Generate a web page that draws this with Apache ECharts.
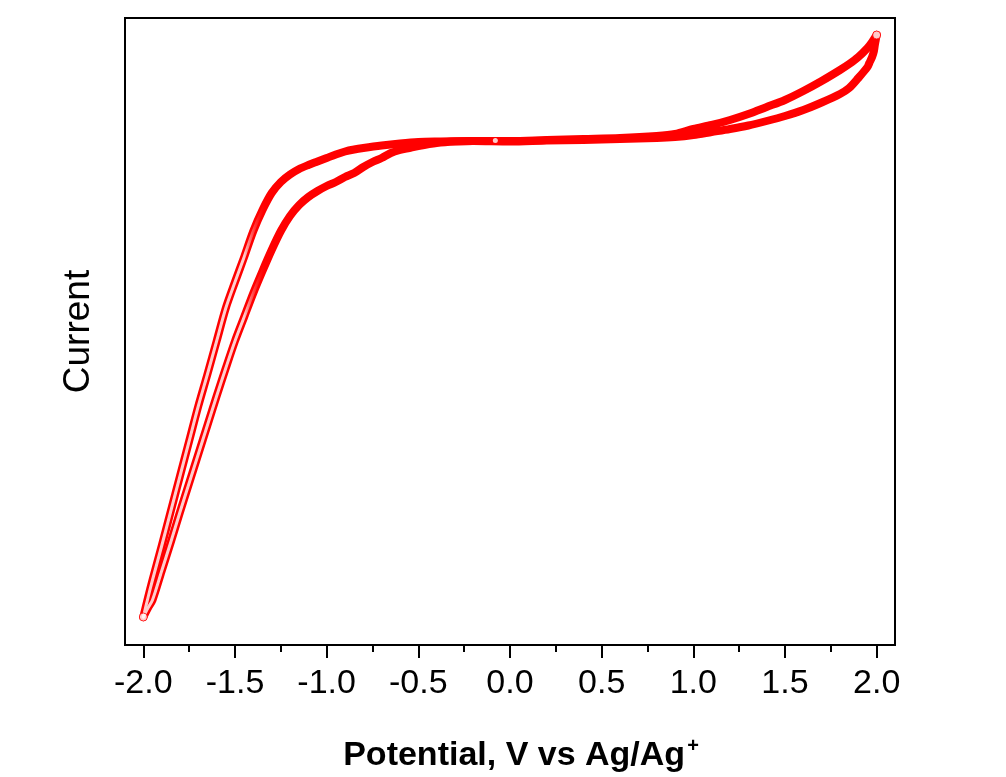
<!DOCTYPE html>
<html>
<head>
<meta charset="utf-8">
<script src="https://cdn.jsdelivr.net/npm/echarts@6/dist/echarts.min.js"></script>
<style>
html,body{margin:0;padding:0;background:#fff;}
#chart{width:1006px;height:777px;}
</style>
</head>
<body>
<div id="chart"></div>
<script>
// Potential (V vs Ag/Ag+) and current (arb. units)
// Branch scanned with increasing potential (-2.0 -> 2.0)
const potentialUp = [-2.00,-1.975,-1.95,-1.90,-1.85,-1.80,-1.75,-1.70,-1.65,-1.60,-1.55,-1.50,-1.45,-1.40,-1.35,-1.30,-1.25,-1.20,-1.15,-1.10,-1.05,-1.00,-0.95,-0.90,-0.85,-0.80,-0.75,-0.70,-0.65,-0.60,-0.55,-0.50,-0.40,-0.30,-0.20,0.00,0.20,0.40,0.60,0.80,0.90,1.00,1.10,1.20,1.30,1.40,1.50,1.60,1.70,1.80,1.85,1.90,1.95,1.975,2.00];
const currentUp = [-954,-936,-920,-862,-804,-744,-686,-628,-570,-512,-456,-402,-354,-306,-262,-220,-182,-152,-130,-114,-102,-92,-84,-74,-66,-54,-44,-36,-26,-20,-16,-12,-6,-3,-2,-2,0,2,4,8,12,22,30,40,52,66,80,98,118,140,152,166,184,196,210];
// Branch scanned with decreasing potential (2.0 -> -2.0)
const potentialDown = [2.00,1.995,1.99,1.985,1.975,1.96,1.95,1.90,1.85,1.80,1.70,1.60,1.50,1.40,1.30,1.20,1.10,1.00,0.90,0.80,0.60,0.40,0.20,0.00,-0.20,-0.40,-0.50,-0.60,-0.70,-0.80,-0.85,-0.90,-0.95,-1.00,-1.05,-1.10,-1.15,-1.20,-1.25,-1.30,-1.35,-1.40,-1.45,-1.50,-1.55,-1.60,-1.65,-1.70,-1.75,-1.80,-1.85,-1.90,-1.95,-1.975,-2.00];
const currentDown = [210,200,190,178,166,154,146,124,104,92,75,60,48,38,29,22,16,10,6,4,2,0,-1,-3,-2,-3,-4,-7,-11,-16,-19,-23,-29,-36,-43,-50,-58,-69,-84,-106,-140,-182,-234,-284,-336,-402,-468,-532,-602,-672,-742,-812,-880,-916,-954];
// Scan start point
const startPoint = [[-0.08, -1]];
// Vertex points
const vertexPoints = [[2.00, 210], [-2.00, -954]];
// Axis ticks
const majorTicks = [-2.0,-1.5,-1.0,-0.5,0.0,0.5,1.0,1.5,2.0];
const minorTicks = [-1.75,-1.25,-0.75,-0.25,0.25,0.75,1.25,1.75];

const zip = (xs, ys) => xs.map((x, i) => [x, ys[i]]);
const FONT = 'Liberation Sans, Arial, sans-serif';
const RED = '#ff0000';

const innerGrad = {
  type: 'linear', x: 0, y: 0, x2: 1, y2: 0,
  colorStops: [
    {offset: 0, color: 'rgba(255,205,205,1)'},
    {offset: 0.14, color: 'rgba(255,205,205,1)'},
    {offset: 0.17, color: 'rgba(255,0,0,0)'},
    {offset: 1, color: 'rgba(255,0,0,0)'}
  ]
};

const lineSeries = (data, width, color, z) => ({
  type: 'line', data: data, smooth: 0.3,
  showSymbol: false, symbol: 'none', silent: true, animation: false,
  lineStyle: {color: color, width: width, cap: 'round', join: 'round'},
  z: z
});

const chart = echarts.init(document.getElementById('chart'), null, {renderer: 'canvas'});
chart.setOption({
  backgroundColor: '#fff',
  animation: false,
  grid: {left: 125, right: 111, top: 18, bottom: 132, show: true, borderColor: '#000', borderWidth: 2,
         backgroundColor: '#fff', containLabel: false, outerBoundsMode: 'none'},
  xAxis: [{
    type: 'value', min: -2.1, max: 2.1, position: 'bottom',
    axisLine: {show: true, onZero: false, lineStyle: {color: '#000', width: 2}},
    axisTick: {show: true, customValues: majorTicks, length: 13, inside: false, lineStyle: {color: '#000', width: 2}},
    axisLabel: {show: true, customValues: majorTicks, formatter: v => Number(v).toFixed(1), fontFamily: FONT, fontSize: 34, color: '#000', margin: 22},
    splitLine: {show: false},
    name: '{b|Potential, V vs Ag/Ag}{sup|+}',
    nameLocation: 'middle', nameGap: 91,
    nameTextStyle: {
      color: '#000', fontFamily: FONT, fontWeight: 'bold', fontSize: 34,
      rich: {
        b: {fontFamily: FONT, fontWeight: 'bold', fontSize: 34, color: '#000', lineHeight: 40, padding: [0, 0, 0, 22]},
        sup: {fontFamily: FONT, fontWeight: 'bold', fontSize: 20, color: '#000', verticalAlign: 'top', lineHeight: 40, padding: [0, 0, 22, 2]}
      }
    }
  }, {
    type: 'value', min: -2.1, max: 2.1, position: 'bottom', gridIndex: 0,
    axisLine: {show: false, onZero: false},
    axisTick: {show: true, customValues: minorTicks, length: 7, inside: false, lineStyle: {color: '#000', width: 2}},
    axisLabel: {show: false},
    splitLine: {show: false}
  }],
  yAxis: {
    type: 'value', min: -1010, max: 244,
    axisLine: {show: true, onZero: false, lineStyle: {color: '#000', width: 2}},
    axisTick: {show: false}, axisLabel: {show: false}, splitLine: {show: false},
    name: 'Current', nameLocation: 'middle', nameRotate: 90, nameGap: 28,
    nameTextStyle: {color: '#000', fontFamily: FONT, fontSize: 37}
  },
  series: [
    lineSeries(zip(potentialUp, currentUp), 8, RED, 2),
    lineSeries(zip(potentialDown, currentDown), 8, RED, 2),
    lineSeries(zip(potentialUp, currentUp), 3, innerGrad, 3),
    lineSeries(zip(potentialDown, currentDown), 3, innerGrad, 3),
    {type: 'scatter', data: vertexPoints, symbol: 'circle', symbolSize: 8, silent: true,
     itemStyle: {color: '#fff', borderColor: RED, borderWidth: 1}, z: 4},
    {type: 'scatter', data: startPoint, symbol: 'circle', symbolSize: 5, silent: true,
     itemStyle: {color: '#fff', borderColor: '#fff', borderWidth: 0}, z: 4}
  ]
});
</script>
</body>
</html>
